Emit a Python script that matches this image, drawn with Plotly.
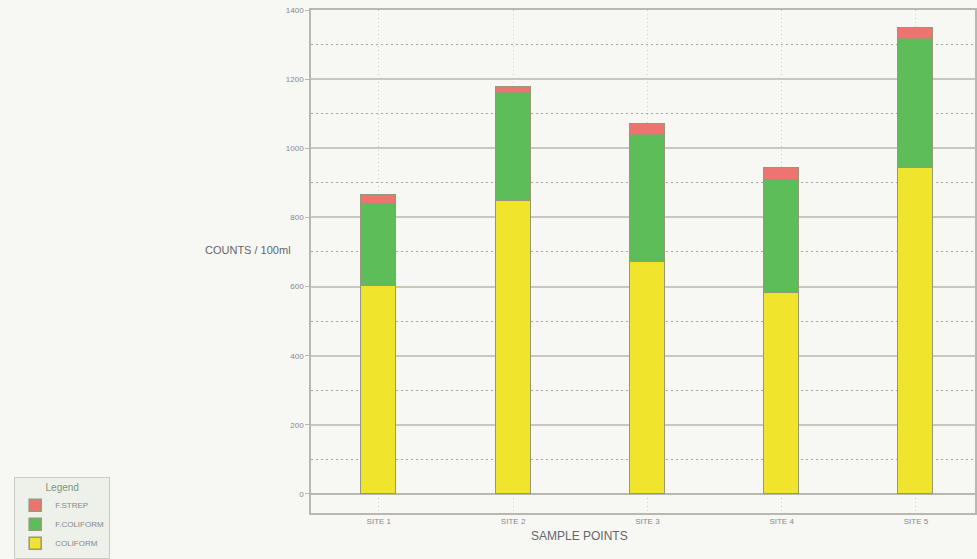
import plotly.graph_objects as go

# Bacterial counts per 100 ml at each sample point (stacked)
sites = ["SITE 1", "SITE 2", "SITE 3", "SITE 4", "SITE 5"]
coliform = [602, 848, 670, 582, 942]
f_coliform = [237, 313, 368, 326, 373]
f_strep = [26, 15, 31, 34, 32]

y_ticks = [0, 200, 400, 600, 800, 1000, 1200, 1400]
y_minor = [100, 300, 500, 700, 900, 1100, 1300]

positions = list(range(1, len(sites) + 1))

bg = "#f7f7f4"
outline = dict(color="#979779", width=1.5)

fig = go.Figure()
series = [
    ("COLIFORM", coliform, "#f1e42c"),
    ("F.COLIFORM", f_coliform, "#5dbd58"),
    ("F.STREP", f_strep, "#ee7470"),
]
for name, vals, color in series:
    fig.add_trace(go.Bar(
        x=positions, y=vals, name=name, width=0.26,
        marker=dict(color=color, line=outline),
    ))

fig.update_layout(
    barmode="stack",
    width=977, height=559,
    margin=dict(l=311, r=0, t=10, b=46),
    paper_bgcolor=bg, plot_bgcolor=bg,
    font=dict(family="Liberation Sans, Arial, sans-serif", color="#777"),
    showlegend=True,
    legend=dict(
        x=-0.447, y=0.072, xanchor="left", yanchor="top",
        traceorder="reversed",
        bgcolor="#eef0ea", bordercolor="#c9cbc2", borderwidth=1,
        font=dict(size=8, color="#888"),
        title=dict(text="Legend", side="top center",
                   font=dict(size=10, color="#7a9a7a")),
        itemwidth=30, tracegroupgap=0,
    ),
    bargap=0,
)

fig.update_xaxes(
    range=[0.495, 5.44],
    tickvals=positions, ticktext=sites,
    tickfont=dict(size=8, color="#888"),
    showgrid=True, gridcolor="#cfcfc8", griddash="1px,3px", gridwidth=1,
    showline=True, linecolor="#b8b8b0", linewidth=1.5, mirror=True,
    ticks="", zeroline=False,
)
fig.update_yaxes(
    range=[-55, 1400],
    tickvals=y_ticks,
    tickfont=dict(size=8, color="#888"),
    ticks="outside", ticklen=4, tickcolor="#b8b8b0",
    showgrid=True, gridcolor="#c8c8c0", gridwidth=1.5,
    minor=dict(tickvals=y_minor, showgrid=True, gridcolor="#a8a89c",
               griddash="2px,3px", gridwidth=1),
    zeroline=True, zerolinecolor="#b8b8b0", zerolinewidth=1.5,
    showline=True, linecolor="#b8b8b0", linewidth=1.5, mirror=True,
)

fig.add_annotation(
    text="COUNTS / 100ml", xref="paper", yref="paper",
    x=(203 - 311) / 666, y=(513 - 250) / 503,
    showarrow=False, font=dict(size=11, color="#666"),
)
fig.add_annotation(
    text="SAMPLE POINTS", xref="paper", yref="paper",
    x=(580 - 311) / 666, y=(513 - 545) / 503,
    showarrow=False, font=dict(size=12, color="#666"),
)

fig.write_html("out.html")
